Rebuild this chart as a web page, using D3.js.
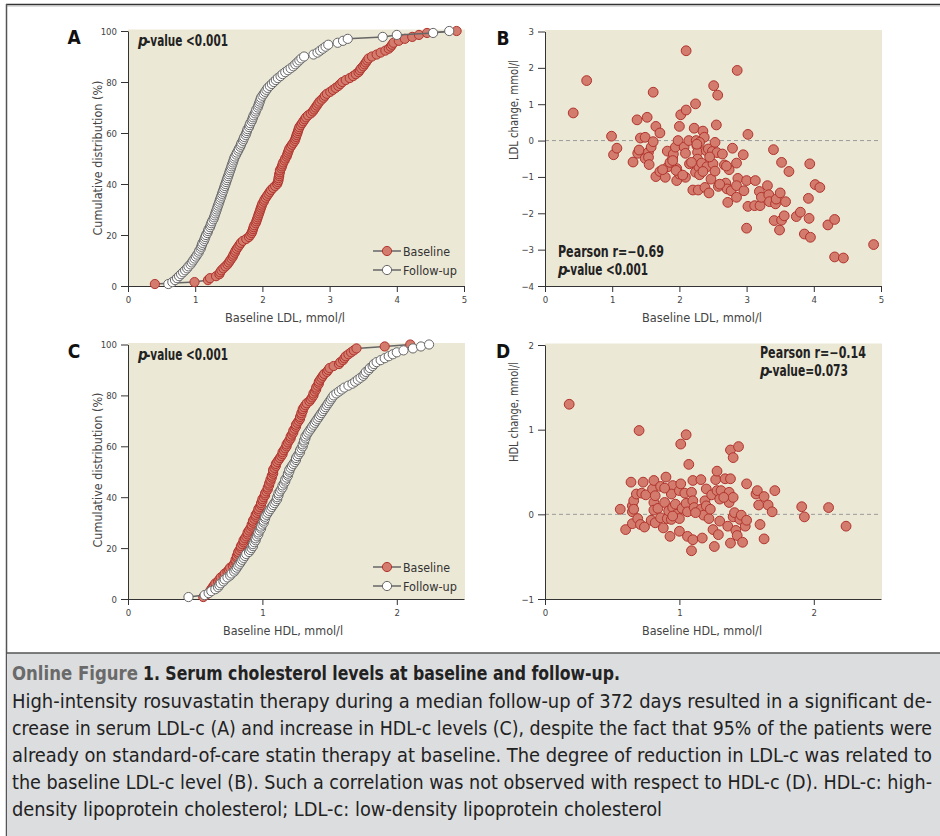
<!DOCTYPE html>
<head>
<meta charset="utf-8">
<style>
body { margin:0; background:#fff; }
svg text { font-family:"Liberation Sans Narrow","DejaVu Sans Condensed","Arial Narrow",sans-serif; }
.tick text { font-size:9.5px; fill:#444; }
.axis path, .axis line { stroke:#333; }
</style>
</head>
<body>
<div id="chart"></div>
<script src="https://cdn.jsdelivr.net/npm/d3@7"></script>
<script>

// panel A: baseline / follow-up LDL (mmol/l), sorted, one value per patient
var ldlBaseline = [
  0.40,0.99,1.19,1.22,1.31,1.36,1.37,1.39,1.42,1.45,
  1.48,1.50,1.52,1.54,1.56,1.57,1.59,1.60,1.62,1.64,
  1.66,1.68,1.71,1.76,1.80,1.82,1.84,1.85,1.86,1.87,
  1.88,1.90,1.91,1.92,1.93,1.94,1.95,1.96,1.97,1.98,
  1.99,2.00,2.02,2.03,2.05,2.07,2.09,2.11,2.13,2.16,
  2.19,2.22,2.23,2.24,2.24,2.25,2.25,2.26,2.26,2.28,
  2.29,2.30,2.31,2.33,2.34,2.36,2.37,2.38,2.39,2.40,
  2.42,2.44,2.46,2.48,2.49,2.50,2.51,2.52,2.53,2.54,
  2.55,2.57,2.59,2.61,2.63,2.65,2.68,2.72,2.75,2.77,
  2.79,2.81,2.83,2.85,2.88,2.91,2.93,2.96,3.01,3.05,
  3.09,3.13,3.16,3.19,3.24,3.30,3.35,3.39,3.43,3.45,
  3.47,3.50,3.52,3.54,3.56,3.58,3.63,3.70,3.76,3.83,
  3.88,3.91,3.93,3.95,4.03,4.12,4.23,4.33,4.45,4.89];
var ldlFollowup = [
  0.60,0.66,0.70,0.73,0.76,0.79,0.82,0.85,0.88,0.90,
  0.93,0.95,0.97,0.99,1.01,1.03,1.05,1.06,1.08,1.09,
  1.10,1.11,1.13,1.14,1.15,1.16,1.18,1.19,1.20,1.22,
  1.23,1.24,1.25,1.27,1.28,1.29,1.30,1.31,1.32,1.33,
  1.34,1.35,1.36,1.37,1.38,1.39,1.40,1.41,1.42,1.43,
  1.44,1.45,1.46,1.47,1.48,1.49,1.50,1.51,1.52,1.53,
  1.54,1.55,1.56,1.57,1.58,1.59,1.61,1.62,1.64,1.65,
  1.67,1.68,1.69,1.71,1.72,1.73,1.75,1.76,1.77,1.78,
  1.80,1.81,1.82,1.84,1.85,1.86,1.87,1.89,1.90,1.91,
  1.93,1.94,1.95,1.96,1.97,1.98,2.00,2.02,2.04,2.06,
  2.08,2.11,2.14,2.17,2.20,2.23,2.27,2.30,2.34,2.38,
  2.42,2.46,2.49,2.52,2.55,2.58,2.62,2.76,2.82,2.86,
  2.90,2.94,2.98,3.12,3.20,3.27,3.79,4.00,4.54,4.78];

// panel B: [baseline LDL, LDL change]
var ldlChange = [
  [0.42,0.76],[0.62,1.65],[0.99,0.12],[1.02,-0.39],[1.07,-0.21],[1.31,-0.59],[1.37,0.57],[1.38,-0.35],
  [1.40,-0.26],[1.42,0.07],[1.49,-0.49],[1.49,0.09],[1.52,0.64],[1.54,-0.32],[1.54,-0.46],[1.55,-0.66],
  [1.58,-0.18],[1.61,-0.03],[1.61,1.33],[1.65,0.39],[1.65,-0.99],[1.71,0.21],[1.71,-0.85],[1.79,-1.01],
  [1.82,-0.29],[1.83,-0.72],[1.86,-0.60],[1.90,-0.49],[1.91,-0.37],[1.94,-0.18],[1.96,-0.77],[1.96,-1.10],
  [1.98,0.00],[2.00,0.39],[2.02,0.71],[2.00,-0.92],[2.07,-0.18],[2.09,-0.35],[2.10,0.84],[2.10,2.47],
  [2.09,-1.01],[2.14,0.00],[2.15,-0.64],[2.20,-1.36],[2.22,0.34],[2.24,1.01],[2.24,-0.87],[2.25,0.00],
  [2.26,-0.14],[2.27,-0.32],[2.27,-0.51],[2.28,-1.36],[2.29,-0.73],[2.30,-0.94],[2.33,-0.62],[2.35,0.26],
  [2.37,0.09],[2.38,-1.29],[2.40,-0.28],[2.41,-0.72],[2.43,-0.23],[2.44,-1.44],[2.47,-1.06],[2.49,-0.30],
  [2.50,-0.64],[2.51,1.51],[2.53,-0.05],[2.53,-0.84],[2.55,0.43],[2.56,-0.33],[2.57,1.25],[2.58,-1.26],
  [2.64,-0.37],[2.67,-0.67],[2.69,-1.17],[2.71,-1.33],[2.72,-1.70],[2.74,-0.80],[2.77,-1.38],[2.79,-0.21],
  [2.85,-0.62],[2.85,-1.56],[2.86,1.93],[2.87,-1.04],[2.85,-1.24],[2.95,-0.39],[2.96,-1.38],[3.00,-1.10],
  [3.00,-2.41],[3.02,0.17],[3.02,-1.81],[3.12,-1.79],[3.13,-1.10],[3.19,-1.40],[3.20,-1.79],[3.22,-1.56],
  [3.31,-1.24],[3.33,-1.49],[3.34,-1.68],[3.40,-0.25],[3.41,-2.20],[3.43,-1.74],[3.44,-1.61],[3.49,-2.46],
  [3.50,-1.44],[3.52,-0.60],[3.52,-2.19],[3.56,-2.07],[3.58,-1.68],[3.63,-0.85],[3.74,-2.09],[3.80,-1.97],
  [3.86,-2.57],[3.92,-1.59],[3.93,-2.14],[3.94,-0.64],[3.95,-2.66],[4.02,-1.21],[4.09,-1.29],[4.21,-2.32],
  [4.31,-3.20],[4.31,-2.17],[4.44,-3.23],[4.89,-2.86],[2.30,-0.05],[2.26,-0.10],[1.90,-0.55],[1.95,-0.82],
  [2.05,-0.95],[2.60,-1.20],[2.45,-0.45],[1.75,-0.80],[2.35,-0.85],[2.70,-0.70],[2.18,-0.60]];

// panel C: baseline / follow-up HDL (mmol/l), sorted
var hdlBaseline = [
  0.56,0.58,0.60,0.61,0.62,0.63,0.64,0.65,0.67,0.68,
  0.69,0.71,0.72,0.74,0.75,0.76,0.78,0.79,0.80,0.80,
  0.81,0.81,0.82,0.82,0.83,0.84,0.84,0.85,0.86,0.86,
  0.87,0.88,0.89,0.89,0.90,0.91,0.92,0.92,0.93,0.93,
  0.94,0.95,0.95,0.96,0.97,0.97,0.98,0.99,0.99,1.00,
  1.00,1.01,1.02,1.02,1.03,1.04,1.04,1.05,1.05,1.06,
  1.06,1.07,1.07,1.08,1.08,1.08,1.09,1.10,1.10,1.11,
  1.12,1.13,1.14,1.15,1.15,1.16,1.17,1.18,1.18,1.19,
  1.20,1.21,1.21,1.22,1.23,1.23,1.24,1.25,1.25,1.26,
  1.27,1.28,1.28,1.29,1.29,1.30,1.30,1.31,1.32,1.33,
  1.35,1.36,1.37,1.38,1.38,1.39,1.40,1.40,1.41,1.42,
  1.42,1.43,1.44,1.45,1.46,1.48,1.49,1.50,1.53,1.57,
  1.58,1.60,1.61,1.62,1.64,1.66,1.68,1.70,1.91,2.10];
var hdlFollowup = [
  0.45,0.57,0.60,0.62,0.65,0.67,0.68,0.69,0.71,0.72,
  0.74,0.76,0.77,0.79,0.80,0.81,0.82,0.83,0.84,0.85,
  0.86,0.87,0.88,0.90,0.91,0.92,0.93,0.93,0.94,0.95,
  0.95,0.96,0.97,0.97,0.98,0.99,0.99,1.00,1.01,1.01,
  1.02,1.02,1.03,1.04,1.05,1.06,1.07,1.08,1.09,1.10,
  1.11,1.11,1.12,1.12,1.13,1.14,1.15,1.15,1.16,1.17,
  1.17,1.18,1.19,1.19,1.20,1.20,1.21,1.22,1.23,1.24,
  1.25,1.25,1.26,1.27,1.28,1.28,1.29,1.30,1.30,1.31,
  1.31,1.32,1.32,1.33,1.34,1.35,1.36,1.37,1.38,1.39,
  1.40,1.41,1.42,1.43,1.44,1.45,1.46,1.47,1.48,1.49,
  1.50,1.51,1.52,1.53,1.55,1.57,1.59,1.61,1.64,1.67,
  1.69,1.71,1.73,1.75,1.76,1.77,1.79,1.80,1.82,1.83,
  1.85,1.88,1.91,1.94,1.97,2.00,2.05,2.12,2.18,2.24];

// panel D: [baseline HDL, HDL change]
var hdlChange = [
  [0.18,1.30],[0.70,0.99],[1.05,0.94],[1.01,0.83],[1.38,0.76],[1.44,0.80],[1.40,0.67],[1.07,0.59],
  [0.56,0.06],[0.60,-0.18],[0.64,0.38],[0.65,0.03],[0.65,0.10],[0.66,0.16],[0.66,0.06],[0.65,-0.11],
  [0.68,0.24],[0.69,-0.05],[0.71,-0.12],[0.73,0.38],[0.72,0.25],[0.74,-0.15],[0.75,0.23],[0.79,-0.07],
  [0.80,0.30],[0.81,0.14],[0.81,0.05],[0.81,0.40],[0.82,0.22],[0.82,-0.10],[0.84,0.07],[0.86,0.33],
  [0.86,-0.04],[0.88,-0.16],[0.89,0.14],[0.90,0.44],[0.91,-0.05],[0.92,0.04],[0.93,-0.26],[0.94,-0.06],
  [0.95,0.34],[0.94,0.24],[0.95,0.08],[0.97,0.12],[0.98,0.00],[1.00,-0.20],[1.00,0.28],[1.00,-0.05],
  [1.01,0.36],[1.02,0.07],[1.04,0.25],[1.05,0.13],[1.06,0.03],[1.06,-0.26],[1.09,0.26],[1.10,0.40],
  [1.10,0.16],[1.10,-0.30],[1.09,-0.43],[1.11,0.08],[1.16,0.06],[1.16,0.41],[1.17,-0.28],[1.18,-0.01],
  [1.19,0.16],[1.20,0.30],[1.20,0.10],[1.22,-0.05],[1.23,0.06],[1.24,0.23],[1.25,-0.18],[1.26,-0.38],
  [1.27,0.41],[1.28,0.51],[1.28,0.28],[1.29,-0.24],[1.30,0.18],[1.30,-0.08],[1.31,0.28],[1.34,0.42],
  [1.36,-0.14],[1.37,0.26],[1.37,0.14],[1.38,0.42],[1.38,-0.34],[1.40,-0.03],[1.40,0.20],[1.41,0.02],
  [1.42,-0.19],[1.43,-0.25],[1.45,-0.06],[1.46,-0.01],[1.47,-0.33],[1.49,-0.14],[1.50,-0.07],[1.50,0.36],
  [1.57,0.24],[1.58,0.28],[1.59,0.11],[1.60,-0.12],[1.63,0.21],[1.63,-0.29],[1.66,0.11],[1.69,0.03],
  [1.71,0.28],[1.91,0.09],[1.93,-0.03],[2.11,0.08],[2.24,-0.14],[0.95,-0.02],[1.12,0.02],[1.33,0.20],
  [0.89,0.31]];

var ldlTicksX = [0,1,2,3,4,5],
    hdlTicksX = [0,1,2],
    pctTicks = [0,20,40,60,80,100],
    ldlChangeTicks = [-4,-3,-2,-1,0,1,2,3],
    hdlChangeTicks = [-1,0,1,2];

var red = "#d37b6d", redLine = "#b1342d", beige = "#ece8d6";

var svg = d3.select("#chart").append("svg")
    .attr("width", 940)
    .attr("height", 836);

// frame
svg.append("line").attr("x1", 6).attr("x2", 940).attr("y1", 4.5).attr("y2", 4.5)
    .attr("stroke", "#333").attr("stroke-width", 1.5);
svg.append("line").attr("x1", 6).attr("x2", 940).attr("y1", 6).attr("y2", 6)
    .attr("stroke", "#bbb").attr("stroke-width", 1);
svg.append("line").attr("x1", 6.5).attr("x2", 6.5).attr("y1", 4).attr("y2", 836)
    .attr("stroke", "#555").attr("stroke-width", 1.5);

function fitText(g, x, y, txt, size, w, anchor) {
  return g.append("text").attr("x", x).attr("y", y)
    .attr("font-size", size + "px")
    .attr("text-anchor", anchor || "start")
    .attr("textLength", w).attr("lengthAdjust", "spacingAndGlyphs")
    .text(txt);
}

function panel(o) {
  var g = svg.append("g");
  var x = d3.scaleLinear().domain(o.xDomain).range([o.left, o.right]);
  var y = d3.scaleLinear().domain(o.yDomain).range([o.bottom, o.top]);

  g.append("rect")
    .attr("x", o.left).attr("y", o.top - 1.5)
    .attr("width", o.right - o.left + 1).attr("height", o.bottom - o.top + 1.5)
    .attr("fill", beige);

  if (o.zero) {
    g.append("line")
      .attr("x1", x(o.xDomain[0])).attr("x2", x(o.xDomain[1]))
      .attr("y1", y(0)).attr("y2", y(0))
      .attr("stroke", "#9a9a9a").attr("stroke-dasharray", "4,3");
  }

  g.append("g").attr("class", "axis")
    .attr("transform", "translate(0," + o.bottom + ")")
    .call(d3.axisBottom(x).tickValues(o.xTicks).tickFormat(d3.format("d"))
      .tickSize(6).tickSizeOuter(0).tickPadding(4));
  g.append("g").attr("class", "axis")
    .attr("transform", "translate(" + o.left + ",0)")
    .call(d3.axisLeft(y).tickValues(o.yTicks).tickFormat(d3.format("d"))
      .tickSize(7).tickSizeOuter(0).tickPadding(4));

  fitText(g, o.xTitleX, o.bottom + 36, o.xTitle, 13, 120, "middle").attr("fill", "#444");
  fitText(g, 0, 0, o.yTitle, 13, o.yTitleW, "middle").attr("fill", "#444")
    .attr("transform", "translate(" + o.yTitleX + "," + o.yTitleY + ") rotate(-90)");

  g.append("text")
    .attr("x", o.letterX).attr("y", o.top + 13)
    .attr("text-anchor", "middle").attr("font-size", "19px").attr("font-weight", "bold")
    .attr("fill", "#111")
    .text(o.letter);

  return {g: g, x: x, y: y};
}

function cdfPanel(o) {
  var p = panel(o);
  var line = d3.line().x(function(d) { return p.x(d.v); }).y(function(d) { return p.y(d.pct); });
  [[o.base, red, redLine], [o.follow, "#fff", "#666"]].forEach(function(s) {
    var n = s[0].length;
    var pts = s[0].map(function(v, i) { return {v: v, pct: (i + 1) / n * 100}; });
    p.g.append("path").datum(pts)
      .attr("d", line).attr("fill", "none").attr("stroke", "#666").attr("stroke-width", 1.5);
    p.g.selectAll(null).data(pts).enter().append("circle")
      .attr("cx", function(d) { return p.x(d.v); })
      .attr("cy", function(d) { return p.y(d.pct); })
      .attr("r", 4.6)
      .attr("fill", s[1]).attr("stroke", s[2]).attr("stroke-width", 1);
  });

  // legend
  [["Baseline", red, redLine, 47], ["Follow-up", "#fff", "#666", 54]].forEach(function(s, i) {
    var ly = o.legendY + i * 19;
    p.g.append("line").attr("x1", 373).attr("x2", 401).attr("y1", ly).attr("y2", ly)
      .attr("stroke", "#666").attr("stroke-width", 1.5);
    p.g.append("circle").attr("cx", 387).attr("cy", ly).attr("r", 4.6)
      .attr("fill", s[1]).attr("stroke", s[2]);
    fitText(p.g, 403, ly + 4.5, s[0], 13, s[3]).attr("fill", "#333");
  });

  pvalue(p.g, 138, o.top + 15, " <0.001", 90);
}

function pvalue(g, x, y, rest, w) {
  g.append("text").attr("x", x).attr("y", y)
    .attr("font-size", "15px").attr("font-weight", "bold").attr("font-style", "italic")
    .attr("fill", "#222").text("p");
  fitText(g, x + 8, y, "-value" + rest, 15, w - 8)
    .attr("font-weight", "bold").attr("fill", "#222");
}

function scatterPanel(o) {
  var p = panel(o);
  p.g.selectAll(null).data(o.points).enter().append("circle")
    .attr("cx", function(d) { return p.x(d[0]); })
    .attr("cy", function(d) { return p.y(d[1]); })
    .attr("r", 4.9)
    .attr("fill", red).attr("stroke", redLine).attr("stroke-width", 1);

  fitText(p.g, o.statX, o.statY, o.pearson, 15, 106)
    .attr("font-weight", "bold").attr("fill", "#222");
  pvalue(p.g, o.statX, o.statY + 18, o.pText, o.pWidth);
}

cdfPanel({
  left: 128, right: 464, top: 31, bottom: 286,
  xDomain: [0, 5], yDomain: [0, 100], xTicks: ldlTicksX, yTicks: pctTicks,
  xTitle: "Baseline LDL, mmol/l", xTitleX: 285,
  yTitle: "Cumulative distribution (%)", yTitleX: 102, yTitleY: 158, yTitleW: 155,
  letter: "A", letterX: 74, legendY: 251,
  base: ldlBaseline, follow: ldlFollowup
});

scatterPanel({
  left: 545, right: 881, top: 31.5, bottom: 286,
  xDomain: [0, 5], yDomain: [-4, 3], xTicks: ldlTicksX, yTicks: ldlChangeTicks, zero: true,
  xTitle: "Baseline LDL, mmol/l", xTitleX: 702,
  yTitle: "LDL change, mmol/l", yTitleX: 518, yTitleY: 110, yTitleW: 100,
  letter: "B", letterX: 503,
  points: ldlChange,
  statX: 558, statY: 257, pearson: "Pearson r=\u22120.69", pText: " <0.001", pWidth: 90
});

cdfPanel({
  left: 128, right: 464, top: 344.5, bottom: 599,
  xDomain: [0, 2.5], yDomain: [0, 100], xTicks: hdlTicksX, yTicks: pctTicks,
  xTitle: "Baseline HDL, mmol/l", xTitleX: 283,
  yTitle: "Cumulative distribution (%)", yTitleX: 102, yTitleY: 470, yTitleW: 155,
  letter: "C", letterX: 74, legendY: 567,
  base: hdlBaseline, follow: hdlFollowup
});

scatterPanel({
  left: 545, right: 881, top: 345, bottom: 599,
  xDomain: [0, 2.5], yDomain: [-1, 2], xTicks: hdlTicksX, yTicks: hdlChangeTicks, zero: true,
  xTitle: "Baseline HDL, mmol/l", xTitleX: 702,
  yTitle: "HDL change, mmol/l", yTitleX: 518, yTitleY: 412, yTitleW: 100,
  letter: "D", letterX: 503,
  points: hdlChange,
  statX: 760, statY: 358, pearson: "Pearson r=\u22120.14", pText: "=0.073", pWidth: 88
});

// caption
var cap = svg.append("g");
cap.append("rect").attr("x", 7).attr("y", 653).attr("width", 933).attr("height", 183).attr("fill", "#dcdddf");
cap.append("line").attr("x1", 6).attr("x2", 940).attr("y1", 653).attr("y2", 653)
  .attr("stroke", "#555").attr("stroke-width", 1.5);

fitText(cap, 12, 680, "Online Figure", 20, 126)
  .attr("font-weight", "bold").attr("fill", "#6a6a6a");
fitText(cap, 143, 680, "1. Serum cholesterol levels at baseline and follow-up.", 20, 477)
  .attr("font-weight", "bold").attr("fill", "#222");

var captionLines = [
  ["High-intensity rosuvastatin therapy during a median follow-up of 372 days resulted in a significant de-", 920],
  ["crease in serum LDL-c (A) and increase in HDL-c levels (C), despite the fact that 95% of the patients were", 920],
  ["already on standard-of-care statin therapy at baseline. The degree of reduction in LDL-c was related to", 920],
  ["the baseline LDL-c level (B). Such a correlation was not observed with respect to HDL-c (D). HDL-c: high-", 920],
  ["density lipoprotein cholesterol; LDL-c: low-density lipoprotein cholesterol", 650]
];
captionLines.forEach(function(l, i) {
  fitText(cap, 12, 708 + i * 27, l[0], 19, l[1]).attr("fill", "#222");
});

</script>
</body>
